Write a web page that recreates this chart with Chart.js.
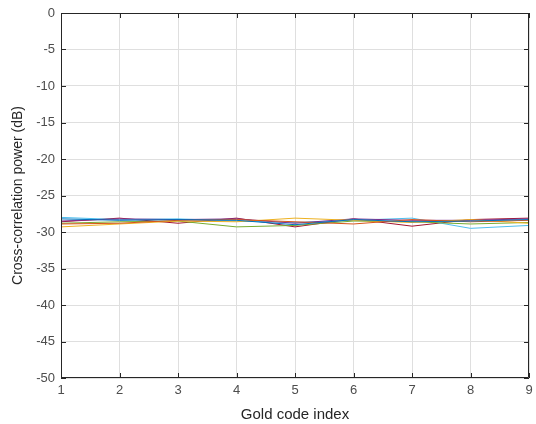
<!DOCTYPE html>
<html>
<head>
<meta charset="utf-8">
<script src="https://cdn.jsdelivr.net/npm/chart.js@4"></script>
<style>
  html, body { margin: 0; padding: 0; background: #fff; }
  #wrap { width: 536px; height: 424px; }
</style>
</head>
<body>
<div id="wrap"><canvas id="ccChart"></canvas></div>
<script>
// Gold code indices (x axis)
const codeIndex = [1, 2, 3, 4, 5, 6, 7, 8, 9];

// cross-correlation power per code, one array per curve (dB)
const seriesBlue      = [-28.2, -28.4, -28.3, -28.4, -29.0, -28.3, -28.6, -28.5, -28.3];
const seriesOrange    = [-28.9, -28.8, -28.4, -28.3, -28.6, -28.9, -28.3, -28.6, -28.4];
const seriesYellow    = [-29.3, -28.9, -28.5, -28.6, -28.1, -28.4, -28.7, -28.3, -28.8];
const seriesPurple    = [-28.5, -28.2, -28.3, -28.2, -28.8, -28.2, -28.4, -28.4, -28.2];
const seriesGreen     = [-28.8, -28.6, -28.5, -29.3, -29.1, -28.5, -28.6, -28.9, -28.7];
const seriesLightBlue = [-28.0, -28.3, -28.2, -28.5, -28.7, -28.4, -28.1, -29.5, -29.1];
const seriesRed       = [-28.6, -28.1, -28.8, -28.1, -29.3, -28.2, -29.2, -28.3, -28.1];

const yTicks = [0, -5, -10, -15, -20, -25, -30, -35, -40, -45, -50];

const lineColors = ["#0072BD", "#D95319", "#EDB120", "#7E2F8E", "#77AC30", "#4DBEEE", "#A2142F"];
const allSeries = [seriesBlue, seriesOrange, seriesYellow, seriesPurple, seriesGreen, seriesLightBlue, seriesRed];

// box around the axes + inward tick marks, matlab style
const boxPlugin = {
    id: "matlabBox",
    afterDraw(chart) {
        const { ctx, chartArea: a, scales } = chart;
        ctx.save();
        ctx.strokeStyle = "#262626";
        ctx.lineWidth = 1;
        ctx.beginPath();
        ctx.rect(a.left + 0.5, a.top + 0.5, a.right - a.left - 1, a.bottom - a.top - 1);
        ctx.stroke();
        ctx.beginPath();
        codeIndex.forEach(v => {
            const x = Math.round(scales.x.getPixelForValue(v)) + 0.5;
            ctx.moveTo(x, a.bottom); ctx.lineTo(x, a.bottom - 5);
            ctx.moveTo(x, a.top); ctx.lineTo(x, a.top + 5);
        });
        yTicks.forEach(v => {
            const y = Math.round(scales.y.getPixelForValue(v)) + 0.5;
            ctx.moveTo(a.left, y); ctx.lineTo(a.left + 5, y);
            ctx.moveTo(a.right, y); ctx.lineTo(a.right - 5, y);
        });
        ctx.stroke();
        ctx.restore();
    }
};

new Chart(document.getElementById("ccChart").getContext("2d"), {
    type: "line",
    data: {
        labels: codeIndex,
        datasets: allSeries.map((vals, i) => ({
            data: vals.map((v, j) => ({ x: codeIndex[j], y: v })),
            borderColor: lineColors[i],
            borderWidth: 1,
            pointRadius: 0,
            tension: 0,
            fill: false
        }))
    },
    options: {
        responsive: true,
        maintainAspectRatio: false,
        animation: false,
        layout: { padding: { top: 13, right: 7, left: 0, bottom: 0 } },
        plugins: {
            legend: { display: false },
            tooltip: { enabled: false }
        },
        scales: {
            x: {
                type: "linear",
                min: 1,
                max: 9,
                afterFit: s => { s.height = 46; s.paddingLeft = 0; s.paddingRight = 0; },
                afterBuildTicks: s => { s.ticks = codeIndex.map(v => ({ value: v })); },
                grid: { color: "#dfdfdf", drawTicks: false },
                border: { display: false },
                ticks: {
                    padding: 5,
                    color: "#4d4d4d",
                    font: { family: "Liberation Sans, Arial", size: 13 }
                },
                title: {
                    display: true,
                    text: "Gold code index",
                    color: "#262626",
                    padding: { top: 0, bottom: 0 },
                    font: { family: "Liberation Sans, Arial", size: 15 }
                }
            },
            y: {
                min: -50,
                max: 0,
                afterFit: s => { s.width = 61; s.paddingTop = 0; s.paddingBottom = 0; },
                afterBuildTicks: s => { s.ticks = yTicks.map(v => ({ value: v })); },
                grid: { color: "#dfdfdf", drawTicks: false },
                border: { display: false },
                ticks: {
                    padding: 6,
                    color: "#4d4d4d",
                    font: { family: "Liberation Sans, Arial", size: 13 }
                },
                title: {
                    display: true,
                    text: "Cross-correlation power (dB)",
                    color: "#262626",
                    padding: { top: 10, bottom: 0 },
                    font: { family: "Liberation Sans, Arial", size: 14 }
                }
            }
        }
    },
    plugins: [boxPlugin]
});
</script>
</body>
</html>
